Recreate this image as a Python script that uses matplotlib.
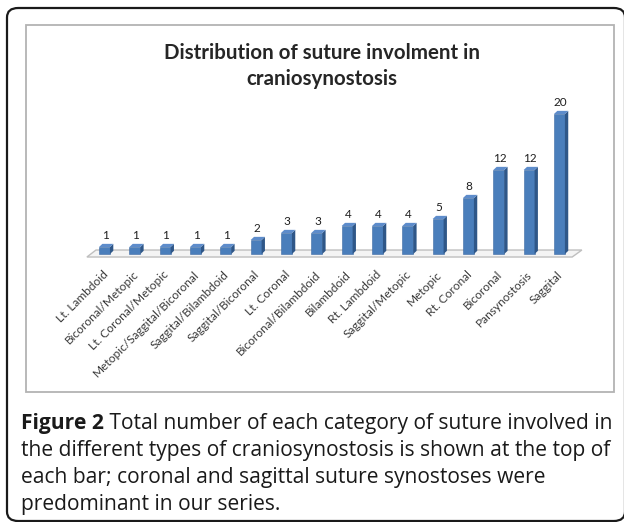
import matplotlib
matplotlib.use("Agg")
import matplotlib.pyplot as plt
import matplotlib.transforms as mtransforms
from matplotlib.patches import Polygon, Rectangle, FancyBboxPatch

categories = ["Lt. Lambdoid", "Bicoronal/Metopic", "Lt. Coronal/Metopic",
              "Metopic/Saggital/Bicoronal", "Saggital/Bilambdoid", "Saggital/Bicoronal",
              "Lt. Coronal", "Bicoronal/Bilambdoid", "Bilambdoid", "Rt. Lambdoid",
              "Saggital/Metopic", "Metopic", "Rt. Coronal", "Bicoronal",
              "Pansynostosis", "Saggital"]
counts = [1, 1, 1, 1, 1, 2, 3, 3, 4, 4, 4, 5, 8, 12, 12, 20]

title = "Distribution of suture involment in\ncraniosynostosis"
caption_bold = "Figure 2"
caption_lines = [" Total number of each category of suture involved in",
                 "the different types of craniosynostosis is shown at the top of",
                 "each bar; coronal and sagittal suture synostoses were",
                 "predominant in our series."]

W, H = 624, 522
fig = plt.figure(figsize=(W / 100, H / 100), dpi=100)


def fx(px):
    return px / W


def fy(py):
    return 1 - py / H


# outer rounded frame and inner chart frame
fig.patches.append(FancyBboxPatch((fx(7), fy(521)), fx(618), (513) / H,
                                  boxstyle="round,pad=0,rounding_size=0.018",
                                  transform=fig.transFigure, fill=False,
                                  edgecolor="#1a1a1a", lw=1.6))
fig.patches.append(Rectangle((fx(26), fy(392)), fx(588), 367 / H,
                             transform=fig.transFigure, fill=False,
                             edgecolor="#b3b3b3", lw=1.3))

fig.text(fx(322), fy(66), title, ha="center", va="center", fontsize=14.8,
         fontweight="bold", family="Lato", color="#262626", linespacing=1.4)

# bar axes: bar i centred at x=i, 30.33 px per bar, 7 px per unit
x0_px, step = 104.5, 30.33
base_px, unit = 254, 7.0
left = x0_px - step
right = x0_px + 16 * step
bottom = base_px + unit
top = base_px - 21 * unit
ax = fig.add_axes([fx(left), fy(bottom), (right - left) / W, (bottom - top) / H])
ax.set_xlim(-1, 16)
ax.set_ylim(-1, 21)
for s in ax.spines.values():
    s.set_visible(False)
ax.set_yticks([])

xs = list(range(len(counts)))
w = 0.36
dx, dy = 0.11, 0.45

# floor
ax.add_patch(Polygon([(-0.58, -0.43), (15.42, -0.43), (15.74, 0.57), (-0.28, 0.57)],
                     closed=True, facecolor="#f4f4f4", edgecolor="#bfbfbf", lw=1.0, zorder=1))

ax.bar(xs, counts, width=w, color="#4a7ebb", edgecolor="#3d6aa3", lw=0.4, zorder=3)
for x, v in zip(xs, counts):
    r = x + w / 2
    l = x - w / 2
    ax.add_patch(Polygon([(r, 0), (r + dx, dy), (r + dx, v + dy), (r, v)],
                         closed=True, facecolor="#2f5788", edgecolor="none", zorder=3))
    ax.add_patch(Polygon([(l, v), (r, v), (r + dx, v + dy), (l + dx, v + dy)],
                         closed=True, facecolor="#5d8ccb", edgecolor="none", zorder=3))
    ax.annotate(str(v), (x, v), xytext=(0.5, 8.5), textcoords="offset points",
                ha="center", va="center", fontsize=8.5, family="Lato", color="#1f1f1f")

ax.set_xticks(xs)
ax.set_xticklabels(categories, rotation=45, ha="right", va="center",
                   rotation_mode="anchor", fontsize=8.6, family="Lato", color="#3a3a3a")
ax.tick_params(axis="x", length=0, pad=8.5)
shift = mtransforms.ScaledTranslation(1.5 / 100, 0, fig.dpi_scale_trans)
for lab in ax.get_xticklabels():
    lab.set_transform(lab.get_transform() + shift)

# caption
cap_kw = dict(fontsize=15.1, family="Open Sans", color="#1a1a1a", va="baseline")
t = fig.text(fx(21), fy(429), caption_bold, fontweight="bold", **cap_kw)
fig.canvas.draw()
bb = t.get_window_extent(fig.canvas.get_renderer())
fig.text(bb.x1 / W, fy(429), caption_lines[0], **cap_kw)
for i, line in enumerate(caption_lines[1:]):
    fig.text(fx(21), fy(456 + 27 * i), line, **cap_kw)

fig.savefig("out.png", dpi=100)
